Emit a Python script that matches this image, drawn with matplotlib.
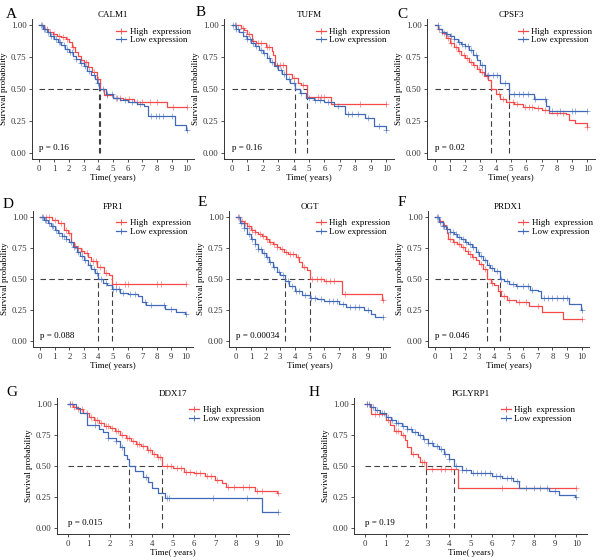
import numpy as np
import matplotlib
matplotlib.use('Agg')
import matplotlib.pyplot as plt
from matplotlib.lines import Line2D

plt.rcParams['font.family'] = ['Liberation Serif', 'DejaVu Serif']

RED = '#F5494A'
BLUE = '#4069B8'

# ---- Kaplan-Meier steps (time in years, survival) ----
# A  CALM1
calm1_hi_t = [0, 0.3, 0.6, 0.9, 1.2, 1.5, 1.8, 2.0, 2.2, 2.4, 2.6, 2.8, 3.0, 3.3, 3.6, 3.9, 4.15, 4.4, 5.0, 5.7, 6.4, 8.7]
calm1_hi_s = [1.0, 0.97, 0.95, 0.93, 0.92, 0.91, 0.89, 0.87, 0.83, 0.79, 0.76, 0.73, 0.71, 0.67, 0.63, 0.58, 0.50, 0.45, 0.43, 0.42, 0.40, 0.355]
calm1_hi_c = [0.5, 0.7, 1.0, 1.3, 1.6, 1.9, 2.3, 3.2, 3.7, 4.0, 4.6, 5.2, 5.5, 6.1, 6.6, 7.0, 7.5, 8.0, 9.1, 10.0]
calm1_lo_t = [0, 0.25, 0.5, 0.75, 1.0, 1.25, 1.5, 1.75, 2.0, 2.25, 2.5, 2.75, 3.0, 3.25, 3.5, 3.75, 3.9, 4.05, 4.5, 5.0, 5.5, 6.0, 6.6, 7.1, 7.4, 9.2, 9.95]
calm1_lo_s = [1.0, 0.975, 0.95, 0.92, 0.895, 0.87, 0.845, 0.815, 0.79, 0.76, 0.735, 0.705, 0.68, 0.645, 0.61, 0.58, 0.55, 0.50, 0.46, 0.43, 0.41, 0.40, 0.38, 0.37, 0.29, 0.22, 0.18]
calm1_lo_c = [0.1, 0.2, 0.3, 0.4, 0.6, 0.8, 0.9, 1.1, 1.3, 1.4, 1.7, 1.9, 2.1, 2.2, 2.5, 2.8, 3.1, 3.4, 3.7, 3.95, 4.3, 4.6, 4.9, 5.3, 5.8, 6.3, 6.8, 7.6, 7.9, 8.1, 8.4, 9.0, 10.0]

# B  TUFM
tufm_hi_t = [0, 0.6, 0.8, 1.0, 1.3, 1.6, 2.2, 2.6, 2.7, 2.8, 3.5, 3.9, 4.3, 4.5, 4.9, 6.4]
tufm_hi_s = [1.0, 0.98, 0.96, 0.93, 0.88, 0.86, 0.83, 0.80, 0.77, 0.69, 0.62, 0.59, 0.55, 0.53, 0.44, 0.38]
tufm_hi_c = [0.3, 0.7, 1.1, 1.4, 1.7, 1.9, 2.3, 2.4, 2.9, 3.1, 3.3, 4.0, 4.6, 5.6, 5.8, 6.0, 8.3, 10.0]
tufm_lo_t = [0, 0.25, 0.5, 0.75, 1.0, 1.25, 1.5, 1.75, 2.0, 2.25, 2.5, 2.75, 3.0, 3.25, 3.5, 3.75, 4.1, 4.4, 4.8, 5.3, 6.0, 6.6, 7.3, 8.6, 9.2, 9.95]
tufm_lo_s = [1.0, 0.97, 0.945, 0.92, 0.895, 0.865, 0.84, 0.81, 0.78, 0.745, 0.71, 0.68, 0.65, 0.62, 0.58, 0.55, 0.50, 0.47, 0.43, 0.41, 0.40, 0.37, 0.30, 0.27, 0.21, 0.18]
tufm_lo_c = [0.1, 0.2, 0.3, 0.4, 0.7, 0.9, 1.0, 1.2, 1.4, 1.6, 1.9, 2.1, 2.4, 2.6, 2.9, 3.2, 3.4, 3.7, 4.0, 4.5, 5.0, 5.4, 5.7, 6.2, 6.9, 7.5, 7.8, 8.2, 8.8, 9.5, 10.0]

# C  CPSF3
cpsf3_hi_t = [0, 0.25, 0.5, 0.75, 1.0, 1.25, 1.5, 1.75, 2.0, 2.25, 2.5, 2.75, 3.0, 3.25, 3.5, 3.7, 4.0, 4.3, 4.7, 5.2, 5.8, 6.5, 7.0, 7.5, 8.6, 8.8, 9.2, 9.95]
cpsf3_hi_s = [1.0, 0.97, 0.94, 0.90, 0.86, 0.83, 0.80, 0.77, 0.74, 0.715, 0.69, 0.66, 0.63, 0.60, 0.57, 0.50, 0.46, 0.42, 0.40, 0.38, 0.36, 0.35, 0.335, 0.31, 0.30, 0.26, 0.23, 0.20]
cpsf3_hi_c = [0.3, 0.6, 0.9, 1.1, 1.4, 1.6, 1.9, 2.1, 2.4, 2.6, 2.9, 3.1, 3.4, 4.2, 4.5, 4.9, 5.1, 5.4, 5.9, 6.2, 6.4, 6.8, 7.2, 8.0, 8.4, 10.0]
cpsf3_lo_t = [0, 0.25, 0.5, 0.75, 1.0, 1.25, 1.5, 1.75, 2.0, 2.25, 2.5, 2.75, 3.0, 3.3, 4.3, 4.9, 6.5, 7.3, 7.5]
cpsf3_lo_s = [1.0, 0.97, 0.95, 0.935, 0.92, 0.895, 0.87, 0.855, 0.84, 0.81, 0.77, 0.73, 0.69, 0.61, 0.55, 0.46, 0.42, 0.37, 0.33]
cpsf3_lo_c = [0.2, 0.5, 0.8, 1.1, 1.3, 1.6, 1.8, 2.0, 2.2, 2.4, 2.7, 3.1, 3.5, 3.8, 4.1, 4.6, 5.2, 5.5, 5.8, 6.1, 6.6, 7.2, 7.7, 8.2, 9.0, 9.2, 10.0]

# D  FPR1
fpr1_hi_t = [0, 0.8, 1.2, 1.6, 1.9, 2.1, 2.3, 2.5, 2.8, 3.0, 3.3, 3.5, 3.9, 4.4, 4.7, 4.9]
fpr1_hi_s = [1.0, 0.98, 0.95, 0.90, 0.87, 0.80, 0.77, 0.75, 0.73, 0.71, 0.68, 0.645, 0.60, 0.545, 0.53, 0.46]
fpr1_hi_c = [0.4, 0.6, 1.0, 1.4, 1.8, 2.0, 2.4, 2.6, 2.9, 3.2, 3.6, 3.8, 4.1, 4.5, 5.2, 5.8, 6.0, 8.0, 8.3, 10.0]
fpr1_lo_t = [0, 0.25, 0.5, 0.75, 1.0, 1.25, 1.5, 1.75, 2.0, 2.25, 2.5, 2.75, 3.0, 3.25, 3.5, 3.75, 4.0, 4.3, 4.6, 4.9, 5.5, 6.0, 6.7, 7.0, 7.3, 8.6, 9.3, 9.95]
fpr1_lo_s = [1.0, 0.975, 0.95, 0.925, 0.90, 0.875, 0.85, 0.825, 0.80, 0.76, 0.72, 0.685, 0.65, 0.61, 0.58, 0.545, 0.50, 0.47, 0.45, 0.42, 0.39, 0.38, 0.36, 0.315, 0.29, 0.26, 0.235, 0.22]
fpr1_lo_c = [0.1, 0.2, 0.3, 0.4, 0.6, 0.8, 0.9, 1.1, 1.3, 1.5, 1.6, 1.8, 2.1, 2.3, 2.6, 2.9, 3.1, 3.4, 3.7, 3.9, 4.2, 4.5, 5.0, 5.2, 5.4, 5.7, 6.2, 6.5, 7.2, 7.6, 8.5, 9.0, 10.0]

# E  OGT
ogt_hi_t = [0, 0.25, 0.5, 0.75, 1.0, 1.25, 1.5, 1.75, 2.0, 2.25, 2.5, 2.75, 3.0, 3.25, 3.5, 4.1, 4.3, 4.5, 4.8, 5.0, 6.0, 7.2, 9.95]
ogt_hi_s = [1.0, 0.97, 0.95, 0.925, 0.90, 0.88, 0.865, 0.845, 0.82, 0.80, 0.78, 0.76, 0.74, 0.72, 0.70, 0.68, 0.64, 0.595, 0.57, 0.50, 0.48, 0.38, 0.33]
ogt_hi_c = [0.2, 0.4, 0.6, 0.9, 1.1, 1.3, 1.6, 1.8, 2.1, 2.3, 2.6, 2.8, 3.1, 3.4, 3.7, 3.9, 4.2, 4.6, 5.2, 5.5, 5.8, 6.1, 6.4, 6.7, 7.4, 10.0]
ogt_lo_t = [0, 0.25, 0.5, 0.75, 1.0, 1.25, 1.5, 1.75, 2.0, 2.25, 2.5, 2.75, 3.0, 3.3, 3.6, 4.0, 4.5, 5.0, 5.5, 6.0, 7.0, 7.5, 8.7, 9.2, 9.5]
ogt_lo_s = [1.0, 0.955, 0.91, 0.865, 0.82, 0.78, 0.74, 0.71, 0.675, 0.635, 0.595, 0.56, 0.53, 0.48, 0.44, 0.40, 0.37, 0.35, 0.34, 0.32, 0.30, 0.275, 0.25, 0.22, 0.19]
ogt_lo_c = [0.1, 0.3, 0.5, 0.7, 0.9, 1.1, 1.3, 1.5, 1.7, 1.9, 2.1, 2.3, 2.6, 2.9, 3.2, 3.5, 3.8, 4.1, 4.3, 4.7, 5.1, 5.4, 5.8, 6.3, 6.6, 6.9, 7.3, 7.8, 8.1, 8.4, 9.0, 10.0]

# F  PRDX1
prdx1_hi_t = [0, 0.25, 0.5, 0.7, 0.8, 0.9, 1.2, 1.5, 1.75, 2.0, 2.25, 2.5, 2.75, 3.0, 3.25, 3.5, 3.8, 4.0, 4.3, 4.5, 4.9, 5.5, 6.4, 7.3, 8.7]
prdx1_hi_s = [1.0, 0.97, 0.94, 0.92, 0.87, 0.82, 0.80, 0.78, 0.755, 0.73, 0.705, 0.68, 0.65, 0.62, 0.58, 0.50, 0.47, 0.45, 0.40, 0.36, 0.33, 0.315, 0.28, 0.23, 0.18]
prdx1_hi_c = [0.3, 0.6, 1.0, 1.3, 1.6, 1.9, 2.2, 2.4, 2.6, 3.1, 3.4, 3.9, 4.4, 4.7, 5.0, 5.7, 6.2, 7.0, 10.0]
prdx1_lo_t = [0, 0.25, 0.5, 0.75, 1.0, 1.25, 1.5, 1.75, 2.0, 2.25, 2.5, 2.75, 3.0, 3.25, 3.5, 3.75, 4.0, 4.4, 4.7, 5.0, 5.5, 6.5, 7.0, 7.2, 9.1, 9.95]
prdx1_lo_s = [1.0, 0.965, 0.93, 0.905, 0.88, 0.86, 0.84, 0.82, 0.80, 0.78, 0.755, 0.72, 0.69, 0.65, 0.615, 0.59, 0.565, 0.50, 0.48, 0.456, 0.44, 0.415, 0.40, 0.35, 0.30, 0.25]
prdx1_lo_c = [0.1, 0.2, 0.3, 0.5, 0.6, 0.8, 1.0, 1.2, 1.4, 1.6, 1.9, 2.1, 2.4, 2.6, 2.9, 3.1, 3.4, 3.7, 3.9, 4.2, 4.5, 4.9, 5.3, 5.6, 6.0, 6.3, 6.6, 7.4, 7.7, 8.0, 8.3, 8.7, 9.0, 10.0]

# G  DDX17
ddx17_hi_t = [0, 0.25, 0.5, 0.75, 1.0, 1.25, 1.5, 1.75, 2.0, 2.25, 2.5, 2.75, 3.0, 3.25, 3.5, 3.75, 4.0, 4.25, 4.5, 5.0, 5.5, 6.0, 6.5, 7.0, 7.3, 7.5, 8.9, 9.95]
ddx17_hi_s = [1.0, 0.98, 0.96, 0.93, 0.90, 0.875, 0.85, 0.825, 0.805, 0.78, 0.75, 0.725, 0.70, 0.68, 0.665, 0.63, 0.60, 0.575, 0.50, 0.48, 0.45, 0.44, 0.42, 0.39, 0.36, 0.33, 0.30, 0.28]
ddx17_hi_c = [0.1, 0.2, 0.3, 0.5, 0.7, 0.9, 1.1, 1.3, 1.4, 1.6, 1.8, 1.9, 2.1, 2.3, 2.4, 2.6, 2.8, 2.9, 3.1, 3.3, 3.4, 3.6, 3.8, 3.9, 4.1, 4.3, 4.4, 4.7, 4.9, 5.2, 5.4, 5.6, 5.8, 6.1, 6.3, 6.6, 6.8, 7.1, 7.6, 7.9, 8.3, 8.6, 9.0, 9.2, 10.0]
ddx17_lo_t = [0, 0.4, 0.6, 0.9, 1.5, 1.7, 1.9, 2.3, 2.5, 2.7, 2.8, 2.9, 3.2, 3.6, 3.8, 4.0, 4.3, 4.6, 9.2]
ddx17_lo_s = [1.0, 0.97, 0.93, 0.83, 0.80, 0.775, 0.73, 0.70, 0.65, 0.59, 0.555, 0.50, 0.46, 0.41, 0.37, 0.32, 0.28, 0.24, 0.125]
ddx17_lo_c = [0.1, 1.3, 1.9, 2.3, 2.6, 3.7, 4.7, 4.8, 6.9, 8.5, 10.0]

# H  PGLYRP1
pglyrp1_hi_t = [0, 0.3, 1.0, 1.2, 1.4, 1.7, 1.9, 2.0, 2.2, 2.5, 2.6, 2.9, 4.4]
pglyrp1_hi_s = [1.0, 0.92, 0.87, 0.83, 0.78, 0.75, 0.71, 0.65, 0.60, 0.57, 0.53, 0.475, 0.32]
pglyrp1_hi_c = [0.1, 0.5, 0.7, 1.1, 1.5, 1.6, 1.8, 2.3, 2.7, 2.8, 3.2, 3.6, 3.8, 4.1, 6.5, 10.0]
pglyrp1_lo_t = [0, 0.25, 0.5, 0.75, 1.0, 1.25, 1.5, 1.75, 2.0, 2.25, 2.5, 2.75, 3.0, 3.25, 3.5, 3.75, 4.0, 4.2, 4.6, 5.0, 6.0, 6.5, 7.0, 7.3, 8.7, 9.2, 9.95]
pglyrp1_lo_s = [1.0, 0.975, 0.95, 0.925, 0.90, 0.87, 0.845, 0.82, 0.80, 0.775, 0.75, 0.72, 0.69, 0.665, 0.64, 0.60, 0.56, 0.50, 0.47, 0.44, 0.42, 0.40, 0.375, 0.32, 0.30, 0.265, 0.25]
pglyrp1_lo_c = [0.1, 0.2, 0.4, 0.6, 0.8, 0.9, 1.1, 1.3, 1.5, 1.6, 1.8, 2.0, 2.2, 2.4, 2.6, 2.8, 3.0, 3.2, 3.4, 3.6, 3.8, 4.0, 4.3, 4.6, 4.8, 5.1, 5.3, 5.5, 5.7, 5.9, 6.2, 6.4, 6.7, 6.9, 7.2, 7.6, 8.0, 8.3, 8.6, 9.0, 10.0]

letters = ['A', 'B', 'C', 'D', 'E', 'F', 'G', 'H']
genes = ['CALM1', 'TUFM', 'CPSF3', 'FPR1', 'OGT', 'PRDX1', 'DDX17', 'PGLYRP1']
pvals = ['0.16', '0.16', '0.02', '0.088', '0.00034', '0.046', '0.015', '0.19']
high = [
    (calm1_hi_t, calm1_hi_s, calm1_hi_c), (tufm_hi_t, tufm_hi_s, tufm_hi_c),
    (cpsf3_hi_t, cpsf3_hi_s, cpsf3_hi_c), (fpr1_hi_t, fpr1_hi_s, fpr1_hi_c),
    (ogt_hi_t, ogt_hi_s, ogt_hi_c), (prdx1_hi_t, prdx1_hi_s, prdx1_hi_c),
    (ddx17_hi_t, ddx17_hi_s, ddx17_hi_c), (pglyrp1_hi_t, pglyrp1_hi_s, pglyrp1_hi_c),
]
low = [
    (calm1_lo_t, calm1_lo_s, calm1_lo_c), (tufm_lo_t, tufm_lo_s, tufm_lo_c),
    (cpsf3_lo_t, cpsf3_lo_s, cpsf3_lo_c), (fpr1_lo_t, fpr1_lo_s, fpr1_lo_c),
    (ogt_lo_t, ogt_lo_s, ogt_lo_c), (prdx1_lo_t, prdx1_lo_s, prdx1_lo_c),
    (ddx17_lo_t, ddx17_lo_s, ddx17_lo_c), (pglyrp1_lo_t, pglyrp1_lo_s, pglyrp1_lo_c),
]

# layout in pixels: (left, right, top, bottom) of each panel, plus letter position and legend x
boxes = [(32, 194, 19, 159), (224, 394, 19, 159), (427, 595, 19, 159),
         (33, 193, 211, 347), (229, 390, 211, 347), (428, 589, 211, 347),
         (57, 289, 398, 534), (354, 587, 398, 534)]
letter_xy = [(11, 14), (201, 13), (402, 14), (8, 204), (202, 203), (402, 203), (12, 392), (314, 392)]
legend_x = [0.52, 0.54, 0.54, 0.52, 0.54, 0.56, 0.57, 0.63]

W, H = 600, 560
fig = plt.figure(figsize=(W / 100, H / 100), dpi=100)


def draw_km(ax, t, s, cens, color):
    t = np.asarray(t, float)
    s = np.asarray(s, float)
    ax.step(np.append(t, 10.0), np.append(s, s[-1]), where='post', color=color, lw=0.9, zorder=3)
    idx = np.searchsorted(t, cens, side='right') - 1
    ax.plot(cens, s[idx], ls='none', marker='+', ms=4, mew=0.6, color=color, alpha=0.6, zorder=3)
    below = np.nonzero(s <= 0.5)[0]
    return t[below[0]] if len(below) else None


for i in range(8):
    l, r, tp, bt = boxes[i]
    ax = fig.add_axes([l / W, 1 - bt / H, (r - l) / W, (bt - tp) / H])
    m_hi = draw_km(ax, *high[i], RED)
    m_lo = draw_km(ax, *low[i], BLUE)

    meds = [m for m in (m_hi, m_lo) if m is not None]
    ax.plot([0, max(meds)], [0.5, 0.5], ls=(0, (5, 3)), color='#404040', lw=0.8, zorder=2)
    for m in meds:
        ax.plot([m, m], [0, 0.5], ls=(0, (5, 3)), color='#404040', lw=0.8, zorder=2)

    ax.set_xlim(-0.5, 10.5)
    ax.set_ylim(-0.05, 1.05)
    ax.set_xticks(range(0, 11))
    ax.set_yticks([0, 0.25, 0.5, 0.75, 1.0])
    ax.set_yticklabels(['0.00', '0.25', '0.50', '0.75', '1.00'])
    ax.tick_params(labelsize=6.3, length=2.5, width=0.6, pad=1.5, colors='#333333')
    for sp in ['top', 'right']:
        ax.spines[sp].set_visible(False)
    for sp in ['left', 'bottom']:
        ax.spines[sp].set_linewidth(0.7)
        ax.spines[sp].set_color('#333333')

    ax.set_xlabel('Time( years)', fontsize=6.5, labelpad=1)
    ax.set_ylabel('Survival probability', fontsize=6.5, labelpad=2)
    ax.set_title(genes[i], fontsize=6.5, pad=0.5)
    ax.text(0, 0.04, 'p = ' + pvals[i], fontsize=6.5, ha='left', va='center')

    handles = [Line2D([], [], color=RED, lw=0.9, marker='+', ms=4, mew=0.6),
               Line2D([], [], color=BLUE, lw=0.9, marker='+', ms=4, mew=0.6)]
    ax.legend(handles, ['High  expression', 'Low expression'], loc='upper left',
              bbox_to_anchor=(legend_x[i], 0.94), frameon=False, fontsize=6.5,
              handlelength=1.1, handletextpad=0.4, labelspacing=0.05, borderpad=0,
              borderaxespad=0)

    lx, ly = letter_xy[i]
    fig.text(lx / W, 1 - ly / H, letters[i], fontsize=11, ha='center', va='center')

fig.savefig('out.png', dpi=100)
